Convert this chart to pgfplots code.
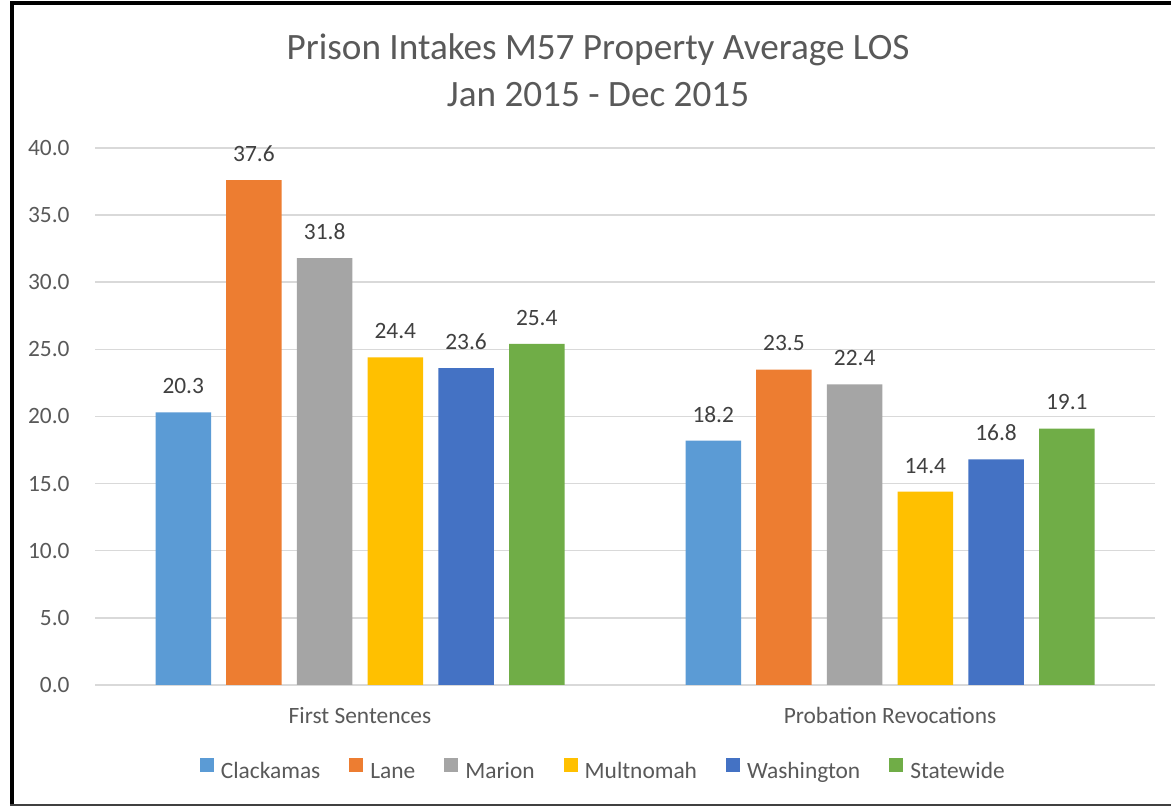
\documentclass[border=0pt]{standalone}
\usepackage{pgfplots}
\pgfplotsset{compat=1.18}
\usepackage{fontspec}
\setmainfont{Carlito}
\definecolor{cClack}{HTML}{5B9BD5}
\definecolor{cLane}{HTML}{ED7D31}
\definecolor{cMarion}{HTML}{A5A5A5}
\definecolor{cMult}{HTML}{FFC000}
\definecolor{cWash}{HTML}{4472C4}
\definecolor{cState}{HTML}{70AD47}
\definecolor{txt}{HTML}{595959}
\definecolor{lbl}{HTML}{404040}
\definecolor{gridc}{HTML}{D9D9D9}
\newcommand{\lblfont}{\fontsize{11.7}{14}\selectfont}
\begin{document}
\begin{tikzpicture}
\useasboundingbox (0,0) rectangle (585.5pt,403pt);
\fill[white] (0,0) rectangle (585.5pt,403pt);
\begin{axis}[
  at={(47.5pt,60.5pt)}, anchor=south west,
  scale only axis, width=530pt, height=268.5pt,
  ymin=0, ymax=40, xmin=-0.5, xmax=1.5,
  enlargelimits=false, clip=false,
  ybar=7.6pt, bar width=27.75pt,
  xtick={0,1}, xticklabels={First Sentences, Probation Revocations},
  ytick={0,5,...,40},
  ymajorgrids, grid style={gridc, line width=0.75pt},
  axis line style={draw=none},
  major tick length=0pt, tick style={draw=none},
  yticklabel style={anchor=east, inner sep=0pt, xshift=-12.5pt, font=\lblfont, text=txt,
    /pgf/number format/fixed, /pgf/number format/fixed zerofill, /pgf/number format/precision=1,
    /pgf/number format/assume math mode=true},
  xticklabel style={anchor=base, inner sep=0pt, yshift=-19.25pt, font=\lblfont, text=txt},
  nodes near coords,
  nodes near coords style={font=\lblfont, text=lbl, anchor=south, inner sep=0pt, yshift=9pt,
    /pgf/number format/fixed, /pgf/number format/fixed zerofill, /pgf/number format/precision=1,
    /pgf/number format/assume math mode=true},
  legend columns=6,
  legend style={draw=none, at={(0.4805,-0.162)}, anchor=center, font=\lblfont, text=txt,
    /tikz/every even column/.append style={column sep=12.5pt},
    /tikz/every odd column/.append style={column sep=1.5pt}},
  legend image code/.code={\fill[#1] (0pt,0.1pt) rectangle (7pt,7.1pt);},
]
\addplot[fill=cClack, draw=none] coordinates {(0,20.3) (1,18.2)};
\addplot[fill=cLane, draw=none] coordinates {(0,37.6) (1,23.5)};
\addplot[fill=cMarion, draw=none] coordinates {(0,31.8) (1,22.4)};
\addplot[fill=cMult, draw=none] coordinates {(0,24.4) (1,14.4)};
\addplot[fill=cWash, draw=none] coordinates {(0,23.6) (1,16.8)};
\addplot[fill=cState, draw=none] coordinates {(0,25.4) (1,19.1)};
\legend{Clackamas, Lane, Marion, Multnomah, Washington, Statewide}
\end{axis}
\node[anchor=base, text=txt, font=\fontsize{18.6}{22}\selectfont] at (299pt,373pt) {Prison Intakes M57 Property Average LOS};
\node[anchor=base, text=txt, font=\fontsize{18.6}{22}\selectfont] at (299pt,349.5pt) {Jan 2015 - Dec 2015};
\draw[black, line width=2pt] (6pt,0) -- (6pt,401.5pt) -- (585.5pt,401.5pt);
\draw[lbl, line width=0.6pt] (5pt,0.5pt) -- (585.5pt,0.5pt);
\end{tikzpicture}
\end{document}
